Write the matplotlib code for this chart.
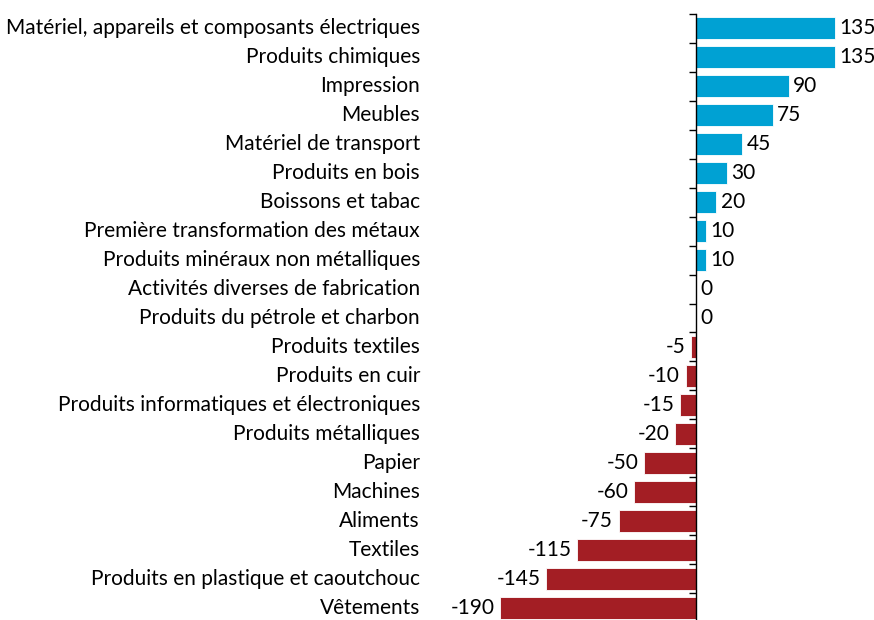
import matplotlib
matplotlib.use("Agg")
import matplotlib.pyplot as plt

#### data

categories = [
    "Matériel, appareils et composants électriques",
    "Produits chimiques",
    "Impression",
    "Meubles",
    "Matériel de transport",
    "Produits en bois",
    "Boissons et tabac",
    "Première transformation des métaux",
    "Produits minéraux non métalliques",
    "Activités diverses de fabrication",
    "Produits du pétrole et charbon",
    "Produits textiles",
    "Produits en cuir",
    "Produits informatiques et électroniques",
    "Produits métalliques",
    "Papier",
    "Machines",
    "Aliments",
    "Textiles",
    "Produits en plastique et caoutchouc",
    "Vêtements",
]
values = [135, 135, 90, 75, 45, 30, 20, 10, 10, 0, 0,
          -5, -10, -15, -20, -50, -60, -75, -115, -145, -190]

BLUE = "#00a1d3"
RED = "#a31e24"
FS = 15

plt.rcParams['font.family'] = ['Lato', 'DejaVu Sans']

#### figure

fig = plt.figure(figsize=(8.74, 6.2), dpi=100)
ax = fig.add_axes([430 / 874, -2 / 620, 440 / 874, 608 / 620])

ypos = list(range(len(categories)))
colors = [BLUE if v >= 0 else RED for v in values]
ax.barh(ypos, values, height=0.76, color=colors, edgecolor="white",
        linewidth=0.6, zorder=2)

ax.set_xlim(-258, 169)
ax.set_ylim(len(categories) - 0.5, -0.5)

# value labels
for y, v in zip(ypos, values):
    if v >= 0:
        ax.annotate(str(v), (v, y), xytext=(3, 0), textcoords="offset points",
                    ha="left", va="center", fontsize=FS)
    else:
        ax.annotate(str(v), (v, y), xytext=(-4, 0), textcoords="offset points",
                    ha="right", va="center", fontsize=FS)

# category labels in a fixed column on the left
for y, name in zip(ypos, categories):
    ax.text(-10 / 440, y, name, transform=ax.get_yaxis_transform(),
            ha="right", va="center", fontsize=FS)

# vertical axis through zero, ticks between categories
for s in ["top", "right", "bottom"]:
    ax.spines[s].set_visible(False)
ax.spines["left"].set_position(("data", 0))
ax.spines["left"].set_linewidth(1.0)
ax.spines["left"].set_zorder(3)
ax.set_xticks([])
ax.set_yticks([i - 0.5 for i in range(len(categories) + 1)])
ax.set_yticklabels([])
ax.tick_params(axis="y", direction="out", length=5, width=1.0)

fig.savefig("out.png", dpi=100)
